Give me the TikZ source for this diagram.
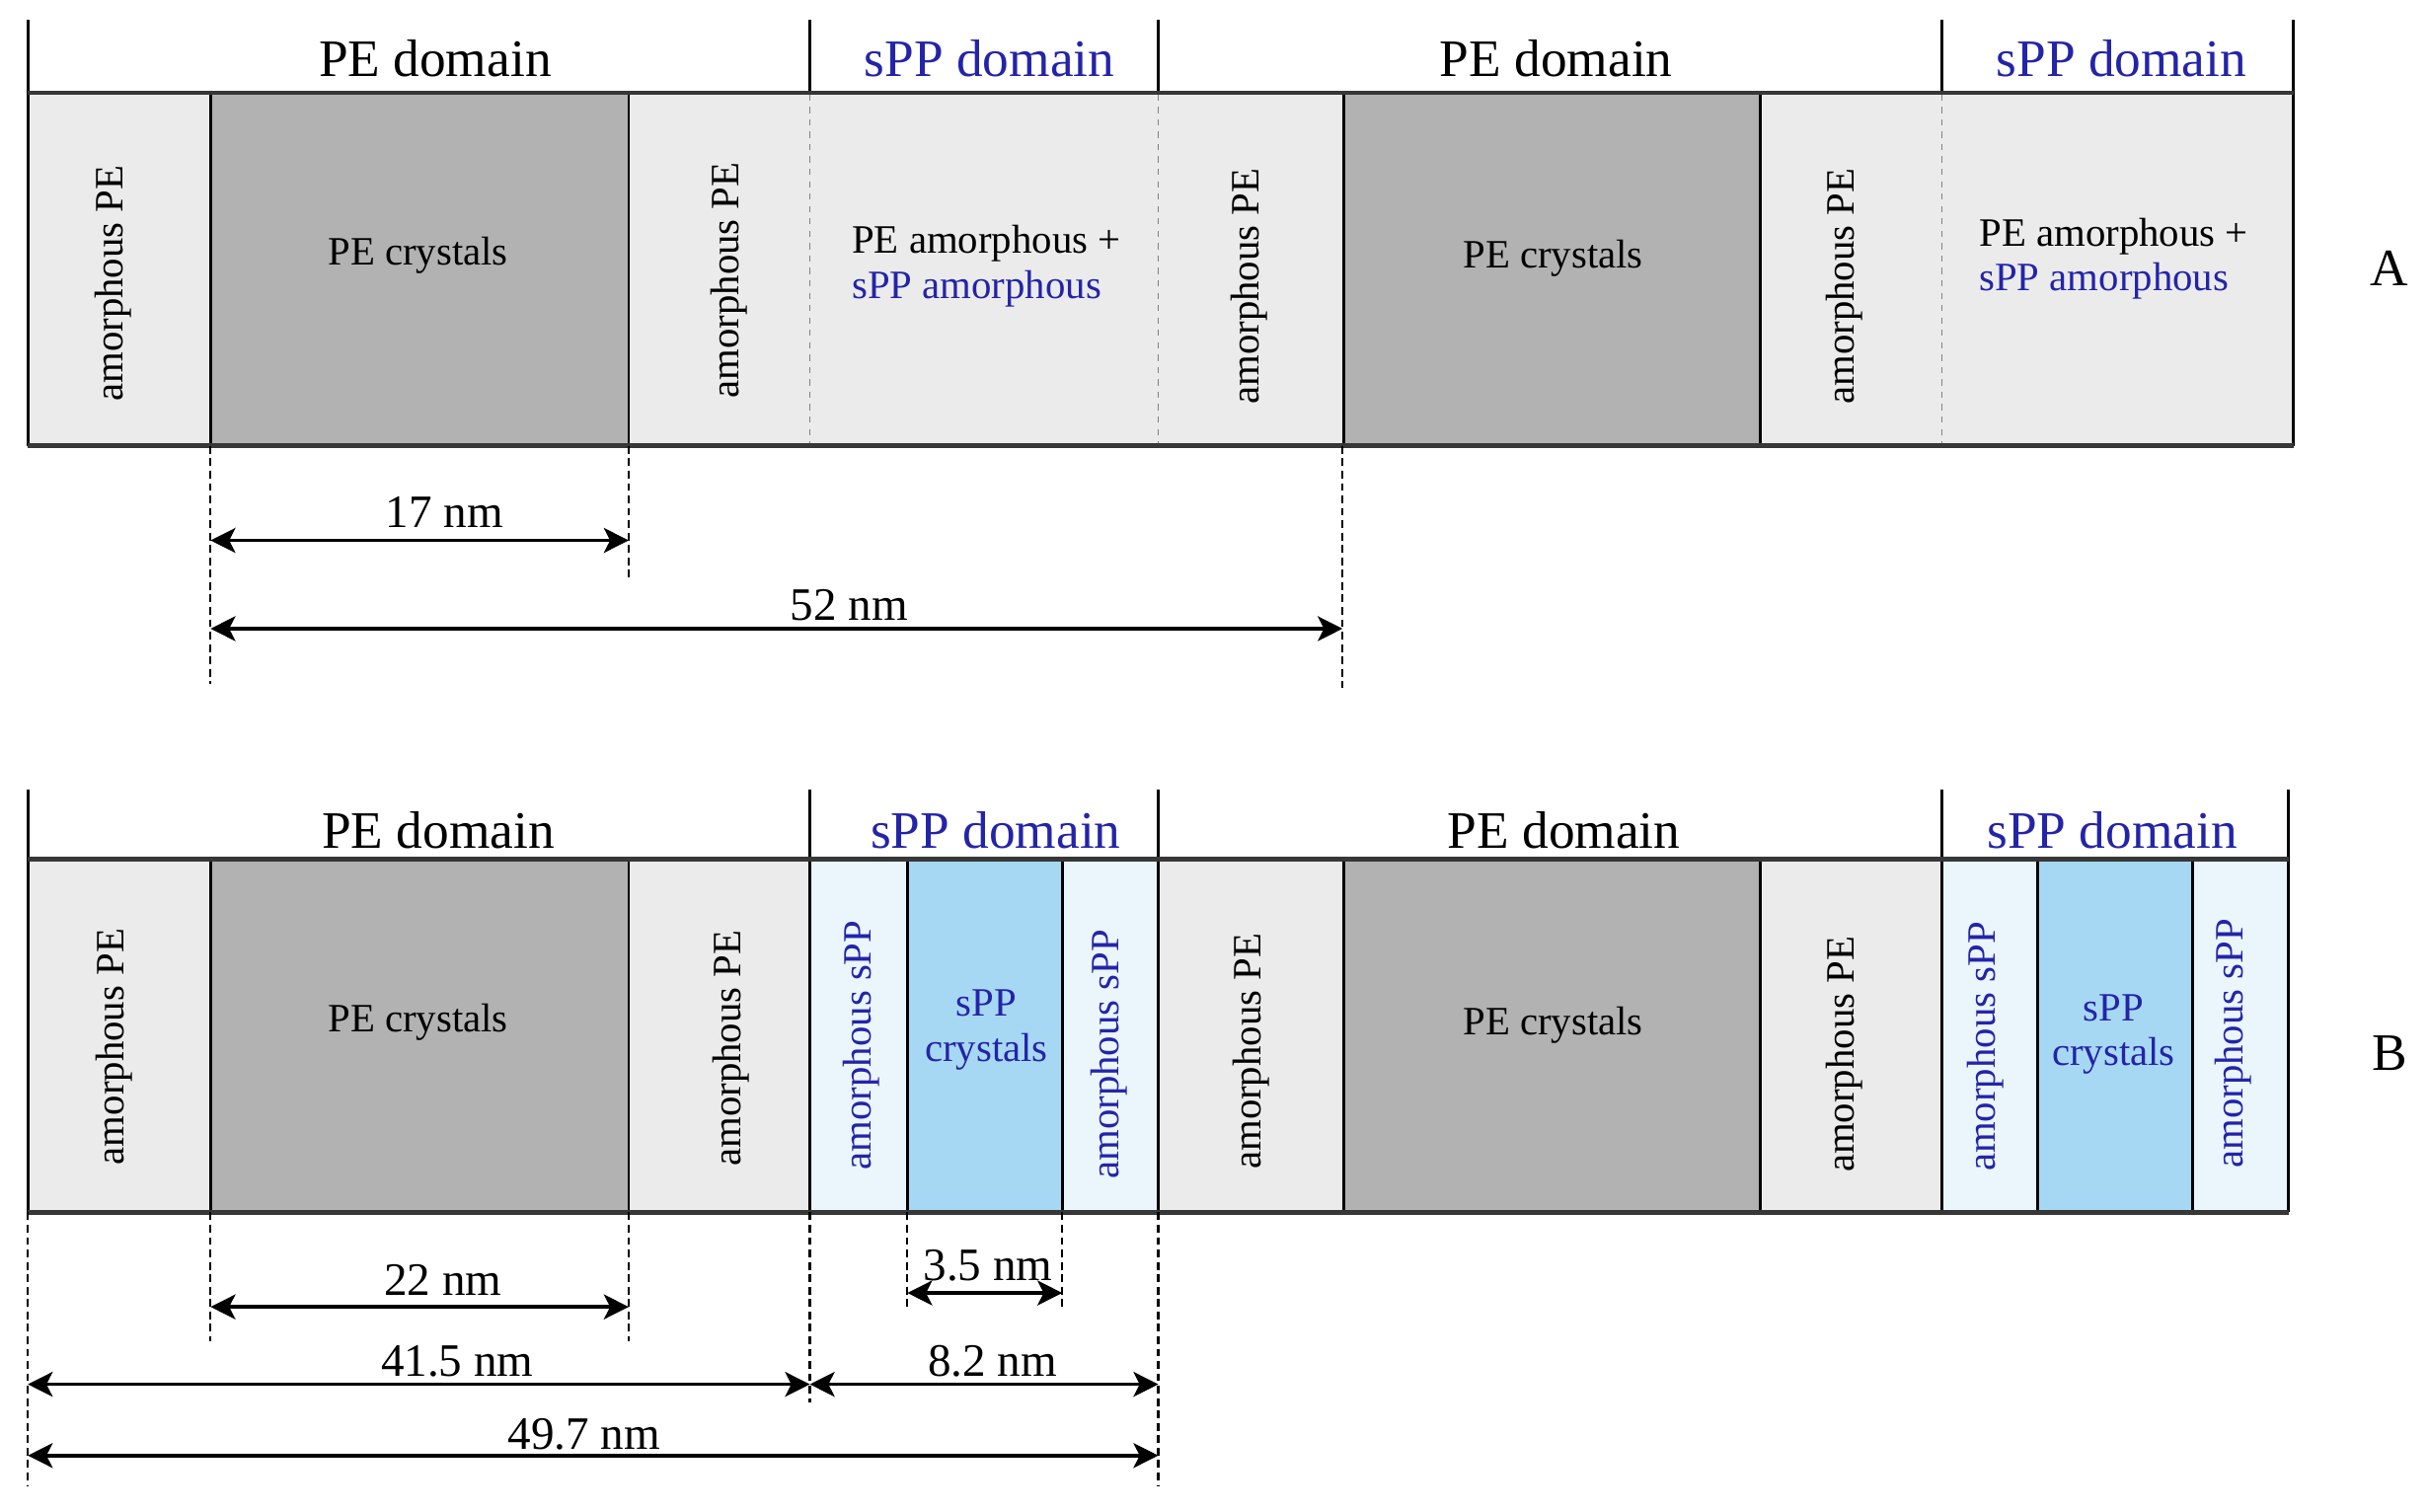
\documentclass[tikz,border=0pt]{standalone}
\usepackage{fontspec}
\setmainfont{Liberation Serif}
\usetikzlibrary{arrows.meta}
\definecolor{amPE}{RGB}{235,235,235}
\definecolor{crPE}{RGB}{178,178,178}
\definecolor{amPP}{RGB}{234,245,252}
\definecolor{crPP}{RGB}{166,216,243}
\definecolor{ppblue}{RGB}{36,36,168}
\definecolor{rimcol}{RGB}{55,55,55}
\begin{document}
\begin{tikzpicture}[x=0.5pt,y=-0.5pt,
 hdr/.style={font=\fontsize{17}{20}\selectfont, inner sep=0pt},
 lbl/.style={font=\fontsize{13}{14.5}\selectfont, inner sep=0pt, align=center},
 lblleft/.style={font=\fontsize{13}{14.5}\selectfont, inner sep=0pt, align=left},
 rot/.style={font=\fontsize{13}{14.5}\selectfont, inner sep=0pt, rotate=90},
 dimtxt/.style={font=\fontsize{15}{17}\selectfont, inner sep=0pt},
 panel/.style={font=\fontsize{17}{20}\selectfont, inner sep=0pt},
 sep/.style={line width=0.9pt, black},
 rim/.style={line width=1.5pt, rimcol},
 dotsep/.style={line width=0.5pt, gray, dash pattern=on 2pt off 2pt},
 guide/.style={line width=0.7pt, black, dash pattern=on 2.5pt off 1.5pt},
 dimline/.style={line width=1.1pt, {Stealth[length=8pt,width=8pt,inset=2pt]}-{Stealth[length=8pt,width=8pt,inset=2pt]}},
]
\useasboundingbox (0,0) rectangle (1568,976);

% ================= Panel A =================
\fill[amPE] (18,60) rectangle (136,288);
\fill[crPE] (136,60) rectangle (406,288);
\fill[amPE] (406,60) rectangle (868,288);
\fill[crPE] (868,60) rectangle (1137,288);
\fill[amPE] (1137,60) rectangle (1481,288);
% header verticals
\foreach \xx in {18,523,748,1254,1481} \draw[sep] (\xx,13) -- (\xx,60);
% strip verticals
\foreach \xx in {18,136,406,868,1137,1481} \draw[sep] (\xx,60) -- (\xx,288);
\foreach \xx in {523,748,1254} \draw[dotsep] (\xx,61) -- (\xx,287);
\draw[rim] (18,60) -- (1481,60);
\draw[rim] (18,288) -- (1481,288);

\node[hdr] (hA1) at (281,38) {PE domain};
\node[hdr, text=ppblue] (hA2) at (639,38) {sPP domain};
\node[hdr] (hA3) at (1005,38) {PE domain};
\node[hdr, text=ppblue] (hA4) at (1370,38) {sPP domain};

\node[rot] (aA1) at (73,183) {amorphous PE};
\node[lbl] (cA1) at (270,165) {PE crystals};
\node[rot] (aA2) at (471,181) {amorphous PE};
\node[lblleft] (mA1) at (637,172) {PE amorphous +\\\textcolor{ppblue}{sPP amorphous}};
\node[rot] (aA3) at (807,185) {amorphous PE};
\node[lbl] (cA2) at (1003,167) {PE crystals};
\node[rot] (aA4) at (1191,185) {amorphous PE};
\node[lblleft] (mA2) at (1365,167) {PE amorphous +\\\textcolor{ppblue}{sPP amorphous}};
\node[panel] (pA) at (1543,173) {A};

% guides A
\coordinate (gA1t) at (136,288); \coordinate (gA1b) at (136,442);
\coordinate (gA2t) at (406,288); \coordinate (gA2b) at (406,375);
\coordinate (gA3t) at (867,288); \coordinate (gA3b) at (867,444);
\draw[guide] (gA1t) -- (gA1b);
\draw[guide] (gA2t) -- (gA2b);
\draw[guide] (gA3t) -- (gA3b);
\coordinate (d17l) at (136,349); \coordinate (d17r) at (406,349);
\coordinate (d52l) at (136,406); \coordinate (d52r) at (867,406);
\draw[dimline] (d17l) -- (d17r) node[dimtxt, pos=0.559, yshift=9pt] (t17) {17 nm};
\draw[dimline] (d52l) -- (d52r) node[dimtxt, pos=0.564, yshift=7.5pt] (t52) {52 nm};

% ================= Panel B =================
\fill[amPE] (18,555) rectangle (136,783);
\fill[crPE] (136,555) rectangle (406,783);
\fill[amPE] (406,555) rectangle (523,783);
\fill[amPP] (523,555) rectangle (586,783);
\fill[crPP] (586,555) rectangle (686,783);
\fill[amPP] (686,555) rectangle (748,783);
\fill[amPE] (748,555) rectangle (868,783);
\fill[crPE] (868,555) rectangle (1137,783);
\fill[amPE] (1137,555) rectangle (1254,783);
\fill[amPP] (1254,555) rectangle (1316,783);
\fill[crPP] (1316,555) rectangle (1416,783);
\fill[amPP] (1416,555) rectangle (1478,783);
\foreach \xx in {18,523,748,1254,1478} \draw[sep] (\xx,510) -- (\xx,555);
\foreach \xx in {18,136,406,523,586,686,748,868,1137,1254,1316,1416,1478} \draw[sep] (\xx,555) -- (\xx,783);
\draw[rim] (18,555) -- (1478,555);
\draw[rim] (18,783) -- (1478,783);

\node[hdr] (hB1) at (283,536) {PE domain};
\node[hdr, text=ppblue] (hB2) at (643,536) {sPP domain};
\node[hdr] (hB3) at (1010,536) {PE domain};
\node[hdr, text=ppblue] (hB4) at (1364,536) {sPP domain};

\node[rot] (aB1) at (74,676) {amorphous PE};
\node[lbl] (cB1) at (270,660) {PE crystals};
\node[rot] (aB2) at (472,677) {amorphous PE};
\node[rot, text=ppblue] (sB1) at (556,675) {amorphous sPP};
\node[lbl, text=ppblue] (xB1) at (637,665) {sPP\\crystals};
\node[rot, text=ppblue] (sB2) at (716,681) {amorphous sPP};
\node[rot] (aB3) at (808,679) {amorphous PE};
\node[lbl] (cB2) at (1003,662) {PE crystals};
\node[rot] (aB4) at (1191,681) {amorphous PE};
\node[rot, text=ppblue] (sB3) at (1282,676) {amorphous sPP};
\node[lbl, text=ppblue] (xB2) at (1365,668) {sPP\\crystals};
\node[rot, text=ppblue] (sB4) at (1442,674) {amorphous sPP};
\node[panel] (pB) at (1543,680) {B};

% guides B
\coordinate (gB0t) at (18,783);  \coordinate (gB0b) at (18,960);
\coordinate (gB1t) at (136,783); \coordinate (gB1b) at (136,866);
\coordinate (gB2t) at (406,783); \coordinate (gB2b) at (406,866);
\coordinate (gB3t) at (523,783); \coordinate (gB3b) at (523,906);
\coordinate (gB4t) at (586,783); \coordinate (gB4b) at (586,846);
\coordinate (gB5t) at (686,783); \coordinate (gB5b) at (686,846);
\coordinate (gB6t) at (748,783); \coordinate (gB6b) at (748,960);
\foreach \g in {gB0,gB1,gB2,gB3,gB4,gB5,gB6} \draw[guide] (\g t) -- (\g b);

\coordinate (d22l) at (136,844); \coordinate (d22r) at (406,844);
\coordinate (d35l) at (586,835); \coordinate (d35r) at (686,835);
\coordinate (d41l) at (18,894);  \coordinate (d41r) at (523,894);
\coordinate (d82l) at (523,894); \coordinate (d82r) at (748,894);
\coordinate (d49l) at (18,940);  \coordinate (d49r) at (748,940);
\draw[dimline] (d22l) -- (d22r) node[dimtxt, pos=0.556, yshift=8.7pt] (t22) {22 nm};
\draw[dimline] (d35l) -- (d35r) node[dimtxt, pos=0.52, yshift=9pt] (t35) {3.5 nm};
\draw[dimline] (d41l) -- (d41r) node[dimtxt, pos=0.549, yshift=7.5pt] (t41) {41.5 nm};
\draw[dimline] (d82l) -- (d82r) node[dimtxt, pos=0.524, yshift=7.5pt] (t82) {8.2 nm};
\draw[dimline] (d49l) -- (d49r) node[dimtxt, pos=0.492, yshift=7pt] (t49) {49.7 nm};
\end{tikzpicture}
\end{document}
